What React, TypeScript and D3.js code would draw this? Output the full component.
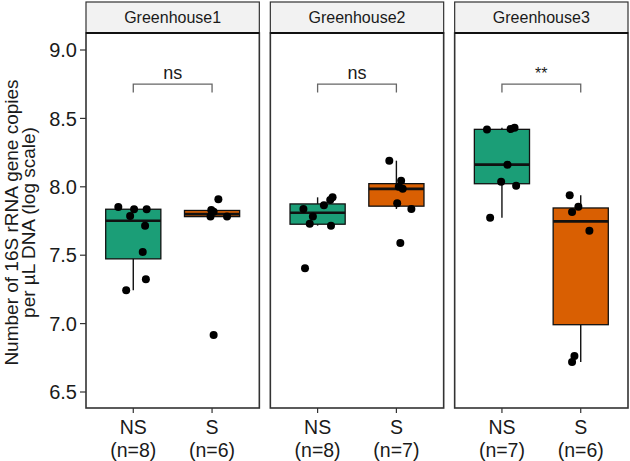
import * as d3 from "d3";

// facets / groups
const greenhouses = ["Greenhouse1", "Greenhouse2", "Greenhouse3"];
const groups = ["NS", "S"];
const signifLabels = ["ns", "ns", "**"];

// log10 copies per sample
const gh1NS = [7.852, 7.836, 7.836, 7.787, 7.716, 7.523, 7.324, 7.243];
const gh1S = [7.909, 7.83, 7.818, 7.782, 7.782, 6.917];
const gh2NS = [7.923, 7.904, 7.865, 7.838, 7.782, 7.73, 7.716, 7.404];
const gh2S = [8.191, 8.045, 8.001, 7.985, 7.879, 7.838, 7.589];
const gh3NS = [8.418, 8.422, 8.432, 8.162, 8.037, 8.008, 7.774];
const gh3S = [7.938, 7.855, 7.816, 7.679, 6.763, 6.719];

// horizontal jitter (category units)
const gh1NSJit = [-0.19, 0.01, 0.17, -0.04, 0.15, 0.12, 0.16, -0.09];
const gh1SJit = [0.08, -0.01, 0.02, -0.02, 0.19, 0.02];
const gh2NSJit = [0.19, 0.16, 0.08, -0.18, -0.06, -0.1, 0.17, -0.16];
const gh2SJit = [-0.09, 0.06, 0.03, 0.08, 0.01, 0.19, 0.05];
const gh3NSJit = [-0.19, 0.11, 0.16, 0.07, -0.01, 0.18, -0.15];
const gh3SJit = [-0.14, -0.03, -0.11, 0.11, -0.08, -0.11];

const yTicks = [6.5, 7.0, 7.5, 8.0, 8.5, 9.0];
const bracketValue = 8.75;

const values = [
  [gh1NS, gh1S],
  [gh2NS, gh2S],
  [gh3NS, gh3S],
];
const jitters = [
  [gh1NSJit, gh1SJit],
  [gh2NSJit, gh2SJit],
  [gh3NSJit, gh3SJit],
];

const colors = ["#1B9E77", "#D95F02"];
const font = "'Liberation Sans', Arial, Helvetica, sans-serif";

function boxStats(v: number[]) {
  const s = [...v].sort(d3.ascending);
  const q1 = d3.quantileSorted(s, 0.25)!;
  const med = d3.quantileSorted(s, 0.5)!;
  const q3 = d3.quantileSorted(s, 0.75)!;
  const iqr = q3 - q1;
  const lo = d3.min(s.filter((d) => d >= q1 - 1.5 * iqr))!;
  const hi = d3.max(s.filter((d) => d <= q3 + 1.5 * iqr))!;
  return { q1, med, q3, lo, hi };
}

export default function App() {
  const width = 630;
  const height = 461;
  const left = 86;
  const right = 628;
  const gap = 11;
  const stripTop = 2;
  const panelTop = 33;
  const panelBottom = 408;
  const panelW = (right - left - gap * 2) / 3;

  const y = d3.scaleLinear().domain([6.5, 9.0]).range([392, 50]);
  const x = d3.scaleLinear().domain([0.4, 2.6]).range([0, panelW]);
  const boxHalf = x(1.35) - x(1);
  const midY = (panelTop + panelBottom) / 2 + 2;

  return (
    <svg
      width={width}
      height={height}
      style={{ position: "absolute", left: 0, top: 0, background: "#fff" }}
      fontFamily={font}
    >
      {/* y axis title */}
      <text
        transform={`translate(17.5,${midY}) rotate(-90)`}
        textAnchor="middle"
        fontSize={19}
        fill="#1a1a1a"
      >
        Number of 16S rRNA gene copies
      </text>
      <text
        transform={`translate(34.5,${midY}) rotate(-90)`}
        textAnchor="middle"
        fontSize={19}
        fill="#1a1a1a"
      >
        per µL DNA (log scale)
      </text>

      {/* y ticks */}
      {yTicks.map((t) => (
        <g key={t}>
          <line x1={left - 6} x2={left} y1={y(t)} y2={y(t)} stroke="#333" strokeWidth={1.2} />
          <text
            x={left - 9}
            y={y(t)}
            dy="0.36em"
            textAnchor="end"
            fontSize={20}
            fill="#1a1a1a"
          >
            {t.toFixed(1)}
          </text>
        </g>
      ))}

      {greenhouses.map((gh, pi) => {
        const px = left + pi * (panelW + gap);
        return (
          <g key={gh} transform={`translate(${px},0)`}>
            {/* strip */}
            <rect
              x={0}
              y={stripTop}
              width={panelW}
              height={panelTop - stripTop}
              fill="#F2F2F2"
              stroke="#333"
              strokeWidth={1.2}
            />
            <text
              x={panelW / 2}
              y={(stripTop + panelTop) / 2}
              dy="0.36em"
              textAnchor="middle"
              fontSize={16}
              fill="#1a1a1a"
            >
              {gh}
            </text>

            {/* significance bracket */}
            <path
              d={`M${x(1)},${y(bracketValue - 0.06)}V${y(bracketValue)}H${x(2)}V${y(bracketValue - 0.06)}`}
              fill="none"
              stroke="#666"
              strokeWidth={1.3}
            />
            <text
              x={(x(1) + x(2)) / 2}
              y={y(bracketValue) - 5}
              textAnchor="middle"
              fontSize={signifLabels[pi] === "ns" ? 18 : 16}
              fill="#1a1a1a"
            >
              {signifLabels[pi]}
            </text>

            {groups.map((g, gi) => {
              const v = values[pi][gi];
              const st = boxStats(v);
              const cx = x(gi + 1);
              return (
                <g key={g}>
                  <line x1={cx} x2={cx} y1={y(st.hi)} y2={y(st.q3)} stroke="#111" strokeWidth={1.4} />
                  <line x1={cx} x2={cx} y1={y(st.q1)} y2={y(st.lo)} stroke="#111" strokeWidth={1.4} />
                  <rect
                    x={cx - boxHalf}
                    y={y(st.q3)}
                    width={boxHalf * 2}
                    height={y(st.q1) - y(st.q3)}
                    fill={colors[gi]}
                    stroke="#111"
                    strokeWidth={1.3}
                  />
                  <line
                    x1={cx - boxHalf}
                    x2={cx + boxHalf}
                    y1={y(st.med)}
                    y2={y(st.med)}
                    stroke="#111"
                    strokeWidth={2.6}
                  />
                  {v.map((d, i) => (
                    <circle
                      key={i}
                      cx={x(gi + 1 + jitters[pi][gi][i])}
                      cy={y(d)}
                      r={4}
                      fill="#000"
                    />
                  ))}
                  {/* x tick + labels */}
                  <line x1={cx} x2={cx} y1={panelBottom} y2={panelBottom + 5} stroke="#333" strokeWidth={1.2} />
                  <text x={cx} y={427} dy="0.36em" textAnchor="middle" fontSize={19.5} fill="#1a1a1a">
                    {g}
                  </text>
                  <text x={cx} y={450} dy="0.36em" textAnchor="middle" fontSize={19.5} fill="#1a1a1a">
                    {`(n=${v.length})`}
                  </text>
                </g>
              );
            })}

            {/* panel border */}
            <rect
              x={0}
              y={panelTop}
              width={panelW}
              height={panelBottom - panelTop}
              fill="none"
              stroke="#333"
              strokeWidth={1.6}
            />
            <line x1={0} x2={panelW} y1={panelTop} y2={panelTop} stroke="#111" strokeWidth={2.2} />
          </g>
        );
      })}
    </svg>
  );
}
